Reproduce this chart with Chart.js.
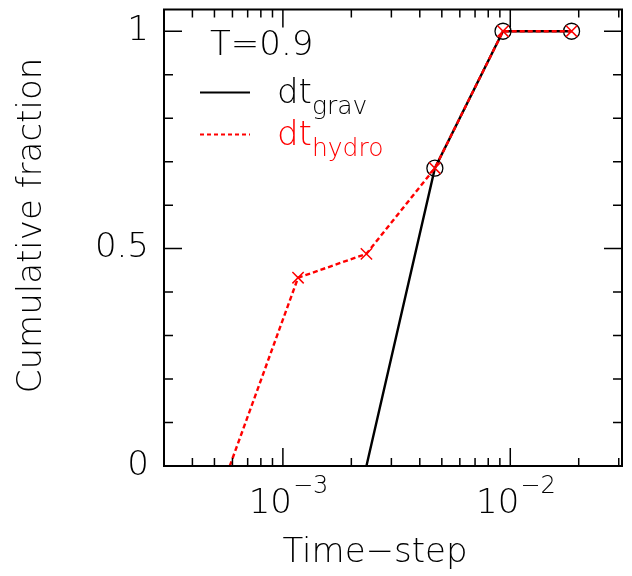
<!DOCTYPE html>
<html lang="en">
<head>
<meta charset="UTF-8">
<title>Cumulative fraction of time-steps</title>
<script src="https://cdn.jsdelivr.net/npm/chart.js"></script>
<style>
  html, body { margin: 0; padding: 0; background: #fff; }
  #wrap { width: 632px; height: 576px; }
</style>
</head>
<body>
<div id="wrap"><canvas id="cdf" width="632" height="576"></canvas></div>
<script>
// time-steps (x) and cumulative fractions (y)
const gravDt    = [2.33e-3, 4.66e-3, 9.29e-3, 1.86e-2];
const gravFrac  = [0, 0.685, 1, 1];
const hydroDt   = [5.84e-4, 1.166e-3, 2.33e-3, 4.66e-3, 9.29e-3, 1.86e-2];
const hydroFrac = [0, 0.433, 0.488, 0.685, 1, 1];

const xMin = 3.2e-4, xMax = 3.1e-2;
const yMin = 0, yMax = 1.05;
const yTickValues = [0, 0.5, 1];
const yMinorStep = 0.1;
const xTickValues = [1e-3, 1e-2];
const xTickExps = ['\u22123', '\u22122'];
const xTitle = 'Time\u2212step';
const yTitle = 'Cumulative fraction';
const legendTitle = 'T=0.9';
const seriesNames = ['grav', 'hydro'];   // subscripts of "dt"
const seriesColors = ['#000000', '#ff0000'];

const FONT = '"DejaVu Sans", sans-serif';
const W = '200 ';

// box with inward ticks on all four sides, superscript x labels, titles, legend
const frame = {
  id: 'frame',
  afterDraw(chart) {
    const { ctx, chartArea: a, scales: { x, y } } = chart;
    ctx.save();
    ctx.strokeStyle = '#000';
    ctx.lineWidth = 2;
    ctx.strokeRect(a.left, a.top, a.right - a.left, a.bottom - a.top);

    ctx.lineWidth = 1.5;
    ctx.beginPath();
    const d0 = Math.floor(Math.log10(xMin)), d1 = Math.ceil(Math.log10(xMax));
    for (let d = d0; d <= d1; d++) {
      for (let m = 1; m <= 9; m++) {
        const v = m * Math.pow(10, d);
        if (v < xMin || v > xMax) continue;
        const px = x.getPixelForValue(v);
        const len = m === 1 ? 18 : 8;
        ctx.moveTo(px, a.bottom); ctx.lineTo(px, a.bottom - len);
        ctx.moveTo(px, a.top);    ctx.lineTo(px, a.top + len);
      }
    }
    for (let i = 0; i * yMinorStep <= yMax + 1e-9; i++) {
      const py = y.getPixelForValue(i * yMinorStep);
      const len = i % 5 === 0 ? 18 : 9;
      ctx.moveTo(a.left, py);  ctx.lineTo(a.left + len, py);
      ctx.moveTo(a.right, py); ctx.lineTo(a.right - len, py);
    }
    ctx.stroke();

    // x tick labels: 10^-3, 10^-2
    ctx.fillStyle = '#000';
    ctx.textBaseline = 'alphabetic';
    ctx.textAlign = 'left';
    xTickValues.forEach((v, i) => {
      const px = x.getPixelForValue(v);
      ctx.font = W + '34px ' + FONT;
      const wb = ctx.measureText('10').width;
      const left = px + 9 - wb;
      ctx.fillText('10', left, a.bottom + 47);
      ctx.font = W + '24px ' + FONT;
      ctx.fillText(xTickExps[i], left + wb + 1, a.bottom + 27);
    });

    // axis titles
    ctx.font = W + '34px ' + FONT;
    ctx.textAlign = 'center';
    ctx.textBaseline = 'middle';
    ctx.fillText(xTitle, a.left + 211, a.bottom + 87);
    ctx.save();
    ctx.translate(32, a.top + 216);
    ctx.rotate(-Math.PI / 2);
    ctx.fillText(yTitle, 0, 0);
    ctx.restore();

    // legend
    ctx.textAlign = 'left';
    ctx.textBaseline = 'alphabetic';
    const lx = a.left + 36, tx = a.left + 113;
    ctx.fillText(legendTitle, a.left + 46, a.top + 45);
    const rows = [83, 125];
    seriesNames.forEach((name, i) => {
      const ly = a.top + rows[i];
      ctx.strokeStyle = seriesColors[i];
      ctx.fillStyle = seriesColors[i];
      ctx.lineWidth = 2;
      ctx.setLineDash(i === 1 ? [4, 3] : []);
      ctx.beginPath();
      ctx.moveTo(lx, ly); ctx.lineTo(lx + 50, ly);
      ctx.stroke();
      ctx.setLineDash([]);
      ctx.font = W + '34px ' + FONT;
      const w = ctx.measureText('dt').width;
      ctx.fillText('dt', tx, ly + 10);
      ctx.font = W + '25px ' + FONT;
      ctx.fillText(name, tx + w, ly + 21);
    });
    ctx.restore();
  }
};

const noFirst = c => (c.dataIndex === 0 ? 0 : 8);

new Chart(document.getElementById('cdf'), {
  type: 'line',
  data: {
    datasets: [
      {
        label: 'dt_grav',
        data: gravDt.map((v, i) => ({ x: v, y: gravFrac[i] })),
        borderColor: seriesColors[0],
        borderWidth: 2.4,
        pointStyle: 'circle',
        pointRadius: noFirst,
        pointBorderColor: seriesColors[0],
        pointBackgroundColor: 'rgba(0,0,0,0)',
        pointBorderWidth: 1.3,
        tension: 0,
        order: 2
      },
      {
        label: 'dt_hydro',
        data: hydroDt.map((v, i) => ({ x: v, y: hydroFrac[i] })),
        borderColor: seriesColors[1],
        borderWidth: 2.4,
        borderDash: [5, 3],
        pointStyle: 'crossRot',
        pointRadius: noFirst,
        pointBorderColor: seriesColors[1],
        pointBorderWidth: 1.5,
        tension: 0,
        order: 1
      }
    ]
  },
  options: {
    responsive: false,
    animation: false,
    devicePixelRatio: 1,
    layout: { padding: { top: 7, right: 10, left: 0, bottom: 0 } },
    plugins: { legend: { display: false }, tooltip: { enabled: false } },
    scales: {
      x: {
        type: 'logarithmic',
        min: xMin, max: xMax,
        grid: { display: false, drawTicks: false },
        border: { display: false },
        ticks: { display: false },
        afterFit(s) { s.height = 110; s.paddingLeft = 0; s.paddingRight = 0; }
      },
      y: {
        type: 'linear',
        min: yMin, max: yMax,
        afterBuildTicks(s) { s.ticks = yTickValues.map(v => ({ value: v })); },
        grid: { display: false, drawTicks: false },
        border: { display: false },
        ticks: {
          color: '#000', padding: 15,
          font: { family: FONT, size: 34, weight: 200 },
          callback: v => String(v)
        },
        afterFit(s) { s.width = 164; s.paddingTop = 0; s.paddingBottom = 0; }
      }
    }
  },
  plugins: [frame]
});
</script>
</body>
</html>
